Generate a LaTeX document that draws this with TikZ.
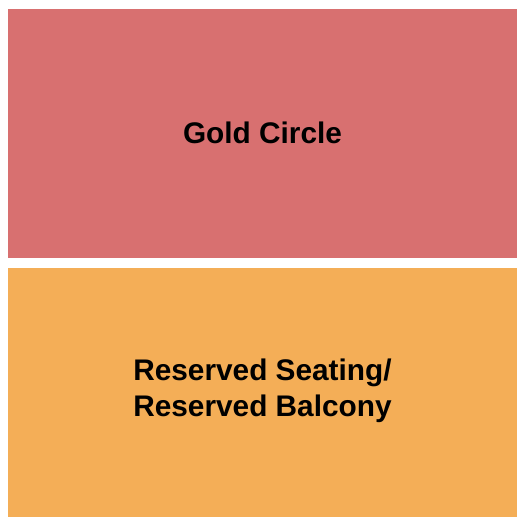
\documentclass[tikz,border=0pt]{standalone}
\usepackage{fontspec}
\setmainfont{Liberation Sans}
\definecolor{gold}{HTML}{D87070}
\definecolor{reserved}{HTML}{F4AE57}
\begin{document}
\begin{tikzpicture}[x=1pt,y=-1pt,
  section/.style={draw=none,inner sep=0pt,minimum width=509pt,minimum height=249pt},
  lab/.style={font=\fontsize{29.8}{36}\selectfont\bfseries,align=center,text=black}]
\useasboundingbox[fill=white] (0,0) rectangle (525,525);
\node[section,fill=gold] (gc) at (262.5,133.5) {};
\node[section,fill=reserved] (rs) at (262.5,392) {};
\node[lab] (gct) at (262.5,133) {Gold Circle};
\node[lab] (rst) at (262.5,390.5) {Reserved Seating/\\Reserved Balcony};
\end{tikzpicture}
\end{document}
